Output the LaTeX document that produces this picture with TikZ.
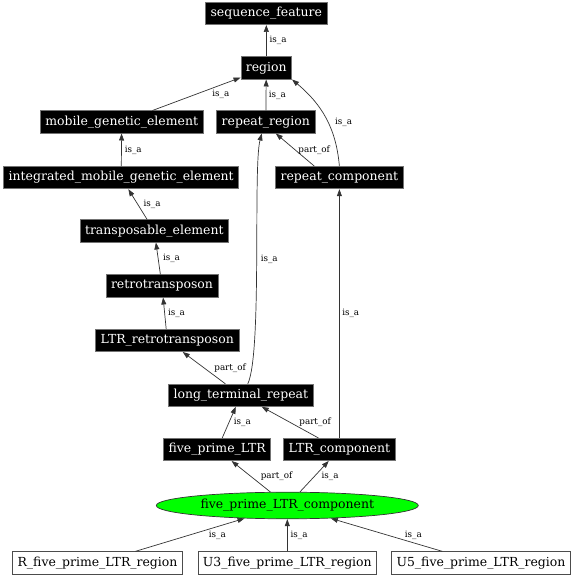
\documentclass[tikz,border=0pt]{standalone}
\usepackage{fontspec}
\setmainfont{DejaVu Serif}
\usetikzlibrary{arrows.meta,shapes.geometric}

\begin{document}
\begin{tikzpicture}[x=1bp,y=1bp,>={Triangle[length=7bp,width=5bp]},
    line width=0.7bp,
    term node/.style={rectangle,fill=black,draw=black!55,text=white,
      inner xsep=5bp,inner ysep=0pt,minimum height=22.3bp,
      font=\fontsize{12.5}{14}\selectfont},
    leaf node/.style={term node,fill=white,draw=black!70,text=black},
    focus node/.style={ellipse,fill=green,draw=black!80,inner sep=0pt,
      minimum width=262bp,minimum height=26.6bp,
      font=\fontsize{12.5}{14}\selectfont}]
    \useasboundingbox (0,0) rectangle (573,576);
    \node[term node] (seq) at (266.3,562.5) {sequence\_feature};
    \node[term node] (reg) at (266.3,508) {region};
    \node[term node] (mge) at (121.7,454) {mobile\_genetic\_element};
    \node[term node] (rr) at (265.8,454) {repeat\_region};
    \node[term node] (imge) at (121.2,398.3) {integrated\_mobile\_genetic\_element};
    \node[term node] (rc) at (339.4,398.3) {repeat\_component};
    \node[term node] (te) at (154.3,345) {transposable\_element};
    \node[term node] (rt) at (162,290) {retrotransposon};
    \node[term node] (ltrr) at (167.3,235.5) {LTR\_retrotransposon};
    \node[term node] (ltr) at (240.8,180.7) {long\_terminal\_repeat};
    \node[term node] (fpl) at (217.2,126.5) {five\_prime\_LTR};
    \node[term node] (ltrc) at (339.4,126.5) {LTR\_component};
    \node[focus node] (fplc) at (287.3,70.5) {five\_prime\_LTR\_component};
    \node[leaf node] (r5) at (97.5,13.2) {R\_five\_prime\_LTR\_region};
    \node[leaf node] (u3) at (287.3,13.2) {U3\_five\_prime\_LTR\_region};
    \node[leaf node] (u5) at (481,13.2) {U5\_five\_prime\_LTR\_region};
    \path[->,every edge/.style={draw=black!80},
      every node/.style={font=\fontsize{8.8}{10}\selectfont,inner sep=0pt}]
    (reg) edge node[right=3bp] {is\_a} (seq)
    (mge) edge node[right=15.5bp] {is\_a} (reg)
    (rr) edge node[right=2.5bp] {is\_a} (reg)
    (rc.north) edge[out=95,in=-40] node[pos=0.45,right=7bp] {is\_a} (reg.south east)
    (imge) edge node[right=3bp] {is\_a} (mge)
    ([xshift=-25bp]rc.north) edge node[right=3bp] {part\_of} ([xshift=10bp]rr.south)
    (te) edge node[right=5.5bp] {is\_a} (imge)
    (rt) edge node[right=4.5bp] {is\_a} (te)
    (ltrr) edge node[right=3bp] {is\_a} (rt)
    (ltr) edge node[right=10bp] {part\_of} (ltrr)
    ([xshift=7bp]ltr.north) edge[out=65,in=-105,looseness=0.35] node[right=3.5bp] {is\_a} ([xshift=-4bp]rr.south)
    (ltrc) edge node[right=2.5bp] {is\_a} (rc)
    (fpl) edge node[right=4.5bp] {is\_a} (ltr)
    (ltrc) edge node[right=9bp] {part\_of} (ltr)
    (fplc) edge node[right=9.5bp] {part\_of} (fpl)
    (fplc) edge node[right=7bp] {is\_a} (ltrc)
    (r5) edge node[right=18.5bp] {is\_a} (fplc)
    (u3) edge node[right=3bp] {is\_a} (fplc)
    (u5) edge node[right=18bp] {is\_a} (fplc);
\end{tikzpicture}
\end{document}
